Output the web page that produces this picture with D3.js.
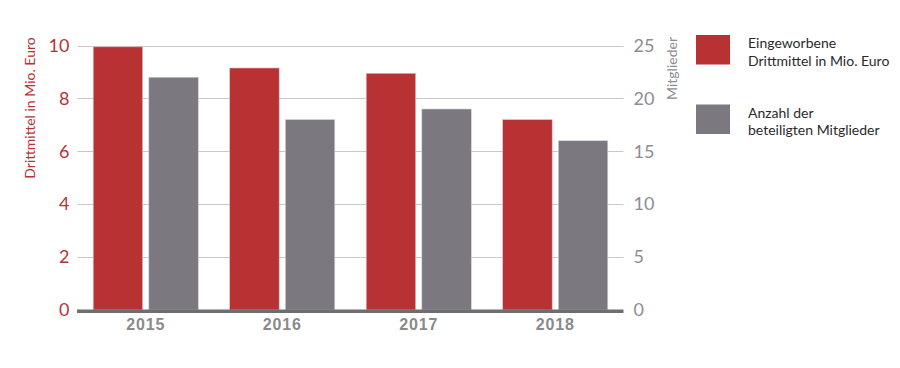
<!DOCTYPE html>
<html><head><meta charset="utf-8">
<script src="https://cdn.jsdelivr.net/npm/d3@7"></script>
<style>
body{margin:0;background:#fff;}
svg{display:block;font-family:Lato,"Open Sans",sans-serif;}
</style></head>
<body><svg id="c" width="900" height="368"></svg>
<script>
const years = ["2015","2016","2017","2018"];
const drittmittel = [9.95, 9.15, 8.95, 7.2];   // Mio. Euro (left axis)
const mitglieder = [22, 18, 19, 16];           // Anzahl (right axis)
const leftTicks = [0,2,4,6,8,10];
const rightTicks = [0,5,10,15,20,25];
const seriesNames = ["Eingeworbene|Drittmittel in Mio. Euro","Anzahl der|beteiligten Mitglieder"];
const leftTitle = "Drittmittel in Mio. Euro";
const rightTitle = "Mitglieder";

const RED = "#b83234", GREY = "#7b7880";
const svg = d3.select("#c");
const x0 = 77.5, x1 = 623.5, yTop = 45.5, yBase = 310;

const x = d3.scaleBand().domain(years).range([x0,x1]).paddingInner(0.23).paddingOuter(0.115);
const xs = d3.scaleBand().domain(["a","b"]).range([0,x.bandwidth()]).paddingInner(0.11);
const yL = d3.scaleLinear().domain([0,10]).range([yBase,yTop]);
const yR = d3.scaleLinear().domain([0,25]).range([yBase,yTop]);

// gridlines
svg.append("g").selectAll("line").data(leftTicks.slice(1)).join("line")
  .attr("x1",x0).attr("x2",x1).attr("y1",d=>Math.round(yL(d))+0.5).attr("y2",d=>Math.round(yL(d))+0.5)
  .attr("stroke","#c9c9c9").attr("stroke-width",1);

// left axis
const gl = svg.append("g").attr("transform",`translate(${x0},0)`)
  .call(d3.axisLeft(yL).tickValues(leftTicks).tickSize(0).tickPadding(8));
gl.select(".domain").remove();
gl.selectAll("text").attr("fill",RED).attr("font-size",18).attr("font-weight",400).attr("font-family","Lato,sans-serif");

// right axis
const gr = svg.append("g").attr("transform",`translate(${x1},0)`)
  .call(d3.axisRight(yR).tickValues(rightTicks).tickSize(0).tickPadding(10));
gr.select(".domain").remove();
gr.selectAll("text").attr("fill","#8e8c92").attr("font-size",18).attr("font-weight",400).attr("font-family","Lato,sans-serif").attr("text-anchor","start");

// bars
const grp = svg.append("g").selectAll("g").data(years).join("g")
  .attr("transform",d=>`translate(${x(d)},0)`);
grp.append("rect").attr("x",xs("a")).attr("width",xs.bandwidth())
  .attr("y",(d,i)=>yL(drittmittel[i])).attr("height",(d,i)=>yBase-yL(drittmittel[i]))
  .attr("fill",RED).attr("stroke","#e6c5c5").attr("stroke-width",0.6);
grp.append("rect").attr("x",xs("b")).attr("width",xs.bandwidth())
  .attr("y",(d,i)=>yR(mitglieder[i])).attr("height",(d,i)=>yBase-yR(mitglieder[i]))
  .attr("fill",GREY).attr("stroke","#d6d5d8").attr("stroke-width",0.6);

// baseline
svg.append("rect").attr("x",x0-0.5).attr("y",yBase-0.5).attr("width",x1-x0+0.5).attr("height",3.5).attr("fill","#6e6e70");

// x labels
const gx = svg.append("g").attr("transform",`translate(0,${yBase})`)
  .call(d3.axisBottom(x).tickSize(0).tickPadding(9));
gx.select(".domain").remove();
gx.selectAll("text").attr("fill","#8a8a8a").attr("font-size",16).attr("font-weight","bold")
  .attr("letter-spacing","0.8px").attr("font-family","'Liberation Sans',Arial,sans-serif");

// axis titles
svg.append("text").attr("transform","translate(35,108) rotate(-90)").attr("text-anchor","middle")
  .attr("fill",RED).attr("font-size",14).attr("font-weight",400).text(leftTitle);
svg.append("text").attr("transform","translate(677,37) rotate(-90)").attr("text-anchor","end")
  .attr("fill","#8e8c92").attr("font-size",14).attr("font-weight",400).text(rightTitle);

// legend
const leg = svg.append("g");
const legY = [35,104.5];
[RED,GREY].forEach((c,i)=>{
  leg.append("rect").attr("x",696).attr("y",legY[i]).attr("width",34).attr("height",29.5).attr("fill",c);
  const t = leg.append("text").attr("x",748).attr("y",legY[i]+13).attr("fill","#2a2a2a").attr("font-size",14).attr("font-weight",400);
  seriesNames[i].split("|").forEach((s,j)=>t.append("tspan").attr("x",748).attr("dy",j?17.5:0).text(s));
});
</script></body></html>
